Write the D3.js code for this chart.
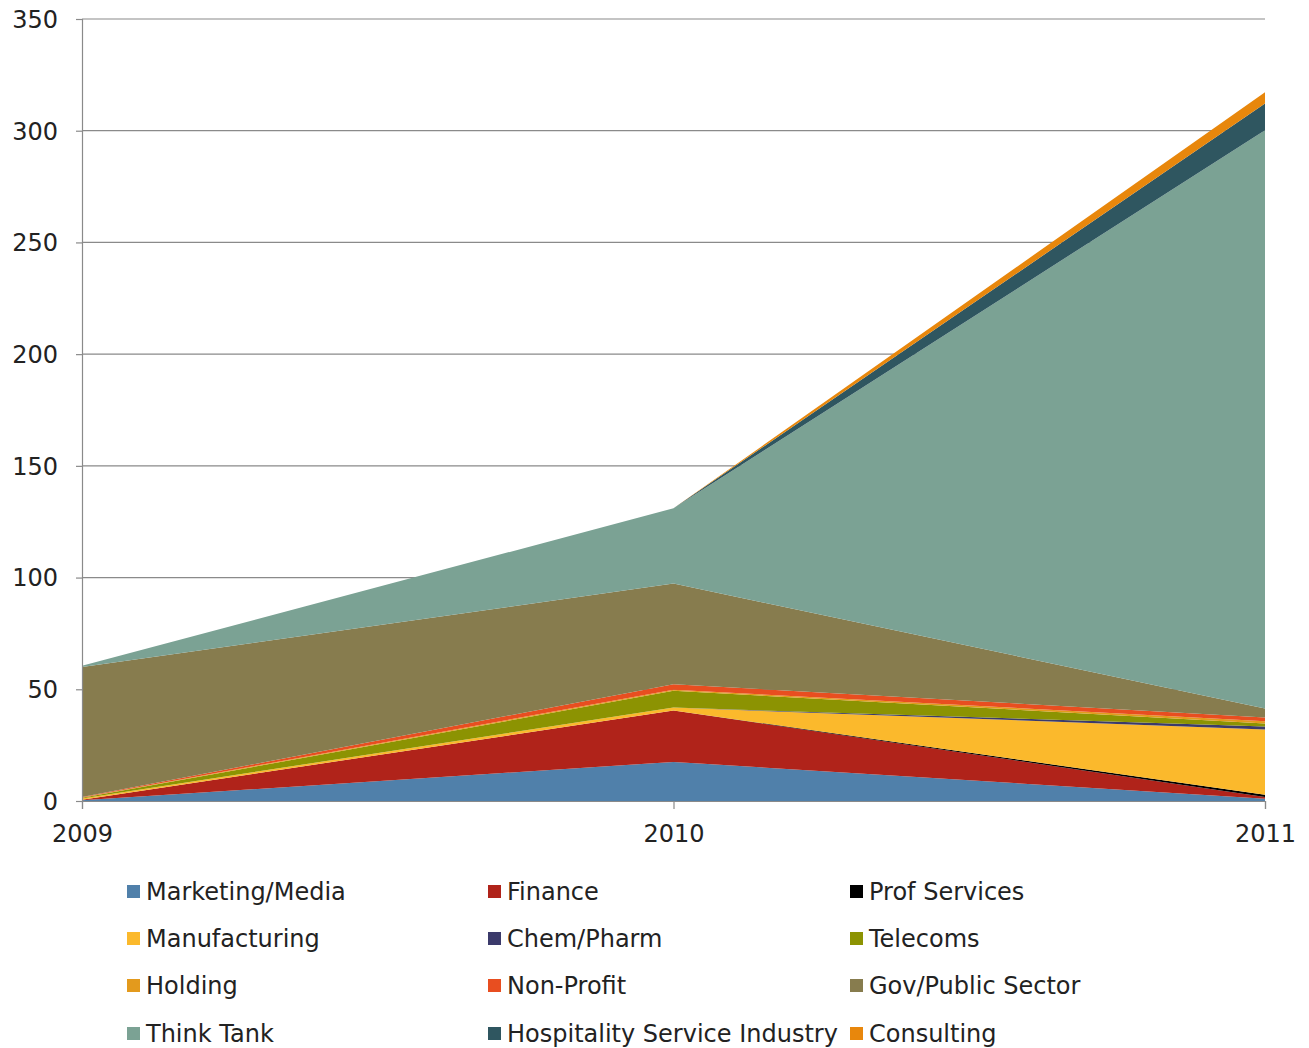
<!DOCTYPE html>
<html>
<head>
<meta charset="utf-8">
<script src="https://cdn.jsdelivr.net/npm/d3@7"></script>
<style>
  html, body { margin: 0; padding: 0; background: #fff; }
  svg text { font-family: "DejaVu Sans", sans-serif; fill: #222; }
</style>
</head>
<body>
<svg id="chart" width="1309" height="1048"></svg>
<script>
// Years on the x axis
const years = ["2009", "2010", "2011"];

// Sectors, bottom of the stack first
const sectors = [
  "Marketing/Media", "Finance", "Prof Services",
  "Manufacturing", "Chem/Pharm", "Telecoms",
  "Holding", "Non-Profit", "Gov/Public Sector",
  "Think Tank", "Hospitality Service Industry", "Consulting"
];

// Counts per sector, one value per year
const marketingMedia   = [0.3, 17.5, 1.0];
const finance          = [0.3, 23.0, 0.8];
const profServices     = [0.0, 0.0, 1.0];
const manufacturing    = [0.5, 1.3, 29.2];
const chemPharm        = [0.0, 0.0, 1.4];
const telecoms         = [0.3, 7.5, 1.3];
const holding          = [0.2, 0.5, 1.0];
const nonProfit        = [0.2, 2.5, 1.7];
const govPublic        = [58.2, 45.0, 4.0];
const thinkTank        = [0.5, 33.7, 258.8];
const hospitality      = [0.0, 0.0, 12.0];
const consulting       = [0.0, 0.0, 5.0];

const yTicks = [0, 50, 100, 150, 200, 250, 300, 350];

const colors = [
  "#5080aa", "#b0231a", "#000000",
  "#fbb92c", "#3b3a6b", "#8c9302",
  "#e39a1d", "#e84e20", "#877c4e",
  "#7ba294", "#2f5660", "#e8870c"
];

const seriesValues = [
  marketingMedia, finance, profServices, manufacturing, chemPharm, telecoms,
  holding, nonProfit, govPublic, thinkTank, hospitality, consulting
];

// Build rows for d3.stack
const rows = years.map((yr, i) => {
  const r = { year: yr };
  sectors.forEach((s, k) => { r[s] = seriesValues[k][i]; });
  return r;
});

const svg = d3.select("#chart");
const margin = { left: 82, right: 44, top: 19, bottom: 247 };
const W = 1309, H = 1048;

const x = d3.scalePoint().domain(years).range([margin.left, W - margin.right]);
const y = d3.scaleLinear().domain([0, 350]).range([H - margin.bottom, margin.top]);

// Gridlines
svg.append("g")
  .selectAll("line")
  .data(yTicks.filter(t => t > 0))
  .join("line")
  .attr("x1", margin.left).attr("x2", W - margin.right)
  .attr("y1", d => y(d)).attr("y2", d => y(d))
  .attr("stroke", "#8a8a8a").attr("stroke-width", 1.2);

// Stacked areas
const stack = d3.stack().keys(sectors);
const layers = stack(rows);
const area = d3.area()
  .x(d => x(d.data.year))
  .y0(d => y(d[0]))
  .y1(d => y(d[1]));

svg.append("g")
  .selectAll("path")
  .data(layers)
  .join("path")
  .attr("d", area)
  .attr("fill", (d, i) => colors[i]);

// Y axis
const yAxis = d3.axisLeft(y).tickValues(yTicks).tickSize(6).tickPadding(18);
const gy = svg.append("g").attr("transform", `translate(${margin.left},0)`).call(yAxis);
gy.select(".domain").attr("stroke", "#8a8a8a").attr("stroke-width", 1.2);
gy.selectAll(".tick line").attr("stroke", "#8a8a8a").attr("stroke-width", 1.2);
gy.selectAll(".tick text")
  .attr("font-size", 24).attr("font-family", "DejaVu Sans, sans-serif")
  .attr("fill", "#222").attr("dy", "0.35em");

// X axis
const xAxis = d3.axisBottom(x).tickSize(8).tickPadding(16);
const gx = svg.append("g").attr("transform", `translate(0,${y(0)})`).call(xAxis);
gx.select(".domain").attr("stroke", "#8a8a8a").attr("stroke-width", 1.2);
gx.selectAll(".tick line").attr("stroke", "#8a8a8a").attr("stroke-width", 1.2);
gx.selectAll(".tick text")
  .attr("font-size", 24).attr("font-family", "DejaVu Sans, sans-serif")
  .attr("fill", "#222");

// Legend: three columns, reading left to right
const colX = [127, 488, 850];
const rowY = [891, 938, 985, 1033];
const legend = svg.append("g")
  .selectAll("g")
  .data(sectors)
  .join("g")
  .attr("transform", (d, i) => `translate(${colX[i % 3]},${rowY[Math.floor(i / 3)]})`);

legend.append("rect")
  .attr("x", 0).attr("y", -6).attr("width", 13).attr("height", 13)
  .attr("fill", (d, i) => colors[i]);

legend.append("text")
  .attr("x", 19).attr("y", 0).attr("dy", "0.36em")
  .attr("font-size", 24)
  .text(d => d);
</script>
</body>
</html>
